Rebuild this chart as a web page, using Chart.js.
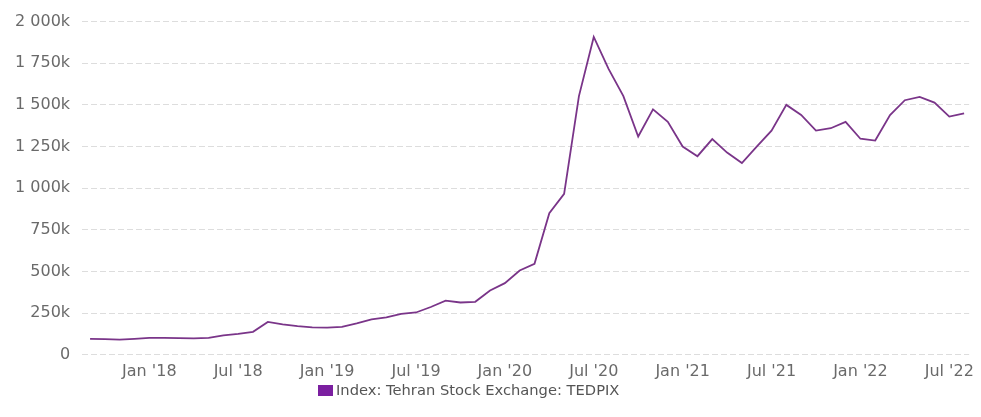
<!DOCTYPE html>
<html>
<head>
<meta charset="utf-8">
<script src="https://cdn.jsdelivr.net/npm/chart.js@4/dist/chart.umd.min.js"></script>
<style>
  html, body { margin: 0; padding: 0; background: #fff; }
  #wrap { position: relative; width: 981px; height: 417px; }
  #legend { position: absolute; left: 318px; top: 381px; font-family: "DejaVu Sans", sans-serif; font-size: 14.7px; color: #555; white-space: nowrap; }
  #legend span.box { display: inline-block; width: 15px; height: 11px; background: #7b1fa0; margin-right: 3px; vertical-align: -1px; }
</style>
</head>
<body>
<div id="wrap">
  <canvas id="c" width="981" height="417"></canvas>
  <div id="legend"><span class="box"></span>Index: Tehran Stock Exchange: TEDPIX</div>
</div>
<script>
// Monthly observations, Sep 2017 .. Aug 2022
const months = [
  "2017-09","2017-10","2017-11","2017-12",
  "2018-01","2018-02","2018-03","2018-04","2018-05","2018-06","2018-07","2018-08","2018-09","2018-10","2018-11","2018-12",
  "2019-01","2019-02","2019-03","2019-04","2019-05","2019-06","2019-07","2019-08","2019-09","2019-10","2019-11","2019-12",
  "2020-01","2020-02","2020-03","2020-04","2020-05","2020-06","2020-07","2020-08","2020-09","2020-10","2020-11","2020-12",
  "2021-01","2021-02","2021-03","2021-04","2021-05","2021-06","2021-07","2021-08","2021-09","2021-10","2021-11","2021-12",
  "2022-01","2022-02","2022-03","2022-04","2022-05","2022-06","2022-07","2022-08"
];
// TEDPIX index values (thousands)
const tedpix = [
  95, 94, 91, 96,
  101, 102, 100, 98, 101, 116, 126, 138, 197, 183, 172, 165,
  163, 167, 188, 212, 224, 246, 254, 287, 325, 314, 318, 386,
  430, 506, 546, 850, 966, 1553, 1908, 1716, 1553, 1310, 1473, 1398,
  1250, 1192, 1295, 1214, 1151, 1250, 1345, 1500, 1440, 1346, 1360, 1398,
  1297, 1286, 1439, 1528, 1548, 1514, 1430, 1449
];
const tickMonths = ["2018-01","2018-07","2019-01","2019-07","2020-01","2020-07","2021-01","2021-07","2022-01","2022-07"];
const tickLabels = ["Jan '18","Jul '18","Jan '19","Jul '19","Jan '20","Jul '20","Jan '21","Jul '21","Jan '22","Jul '22"];
const seriesName = "Index: Tehran Stock Exchange: TEDPIX";

const points = months.map((m, i) => ({ x: i, y: tedpix[i] * 1000 }));
const tickIdx = tickMonths.map(m => months.indexOf(m));

function fmtK(v) {
  if (v === 0) return "0";
  const k = Math.round(v / 1000);
  return k.toString().replace(/\B(?=(\d{3})+(?!\d))/g, " ") + "k";
}

new Chart(document.getElementById('c'), {
  type: 'line',
  data: {
    datasets: [{
      label: seriesName,
      data: points,
      borderColor: '#7a3589',
      borderWidth: 1.8,
      pointRadius: 0,
      tension: 0,
      fill: false
    }]
  },
  options: {
    responsive: false,
    animation: false,
    layout: { padding: { left: 3, right: 6, top: 16, bottom: 29 } },
    plugins: { legend: { display: false }, tooltip: { enabled: false } },
    scales: {
      x: {
        type: 'linear',
        min: -0.54,
        max: 59.34,
        afterBuildTicks: (axis) => { axis.ticks = tickIdx.map(v => ({ value: v })); },
        grid: { display: false, drawTicks: false },
        border: { display: false },
        ticks: {
          autoSkip: false,
          maxRotation: 0,
          padding: 7,
          color: '#6a6a6a',
          font: { family: 'DejaVu Sans', size: 16 },
          callback: (v) => { const j = tickIdx.indexOf(v); return j >= 0 ? tickLabels[j] : ''; }
        }
      },
      y: {
        min: 0,
        max: 2000000,
        grid: { color: '#dddddd', lineWidth: 1, drawTicks: false },
        border: { display: false, dash: [6, 3] },
        ticks: {
          stepSize: 250000,
          padding: 12,
          color: '#6a6a6a',
          font: { family: 'DejaVu Sans', size: 16 },
          callback: (v) => fmtK(v)
        }
      }
    }
  }
});
</script>
</body>
</html>
